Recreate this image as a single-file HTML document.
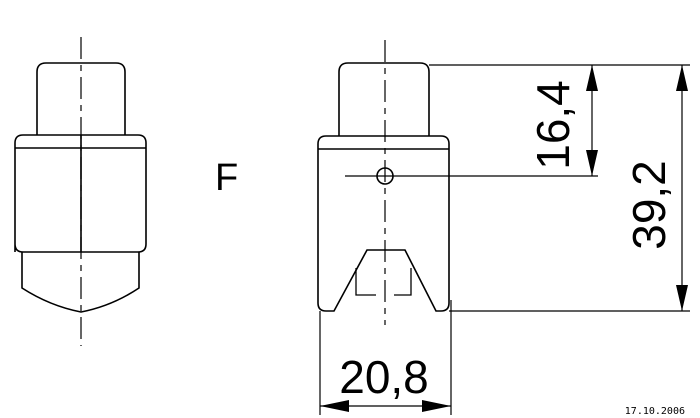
<!DOCTYPE html>
<html><head><style>html,body{margin:0;padding:0;background:#fff;}svg{display:block}</style></head>
<body>
<svg width="700" height="418" viewBox="0 0 700 418" xmlns="http://www.w3.org/2000/svg" font-family="Liberation Sans, sans-serif">
<g fill="none" stroke="#000" stroke-width="1.6">
<!-- left view -->
<path d="M37,135 V72 Q37,63 46,63 H116 Q125,63 125,72 V135"/>
<path d="M15,252 V143 Q15,135 23,135 H138 Q146,135 146,143 V244 Q146,252 138,252 H23 Q15,252 15,244 Z"/>
<line x1="15" y1="148" x2="146" y2="148"/>
<path d="M22,252 V288 Q50,306 81,312 Q112,306 139,288 V252"/>
<line x1="81" y1="135" x2="81" y2="252"/>
<path d="M81,37 V346" stroke-dasharray="22,6,6,6" stroke-width="1.2"/>
<!-- right view -->
<path d="M339,136 V72 Q339,63 348,63 H420 Q429,63 429,72 V136"/>
<path d="M318,144 Q318,136 326,136 H441 Q449,136 449,144 V303 Q449,311 441,311 H436 L405,250 H367 L334,311 H326 Q318,311 318,303 Z"/>
<line x1="318" y1="149" x2="449" y2="149"/>
<circle cx="385" cy="176" r="8"/>
<path d="M356,268 V295 H376 M394,295 H411 V268" stroke-width="1.3"/>
<path d="M385,40 V325" stroke-dasharray="22,6,6,6" stroke-width="1.2"/>
<!-- dimension lines -->
<g stroke-width="1.2">
<line x1="429" y1="65" x2="690" y2="65"/>
<line x1="345" y1="176" x2="598" y2="176"/>
<line x1="449" y1="311" x2="690" y2="311"/>
<line x1="592" y1="65" x2="592" y2="176"/>
<line x1="682" y1="65" x2="682" y2="311"/>
<line x1="320" y1="311" x2="320" y2="415"/>
<line x1="451" y1="300" x2="451" y2="415"/>
<line x1="320" y1="406" x2="451" y2="406"/>
</g>
</g>
<g fill="#000">
<path d="M592,65 l-6,26 h12 z"/><path d="M592,176 l-6,-26 h12 z"/>
<path d="M682,65 l-6,26 h12 z"/><path d="M682,311 l-6,-26 h12 z"/>
<path d="M320,406 l29,-6 v12 z"/><path d="M451,406 l-29,-6 v12 z"/>
</g>
<text x="215" y="190" font-size="38">F</text>
<text x="384" y="393" font-size="46" text-anchor="middle">20,8</text>
<text transform="translate(569,125) rotate(-90)" font-size="46" text-anchor="middle">16,4</text>
<text transform="translate(665,205) rotate(-90)" font-size="46" text-anchor="middle">39,2</text>
<text x="685" y="414" font-size="10" text-anchor="end" font-family="DejaVu Sans Mono, monospace">17.10.2006</text>
</svg>
</body></html>
